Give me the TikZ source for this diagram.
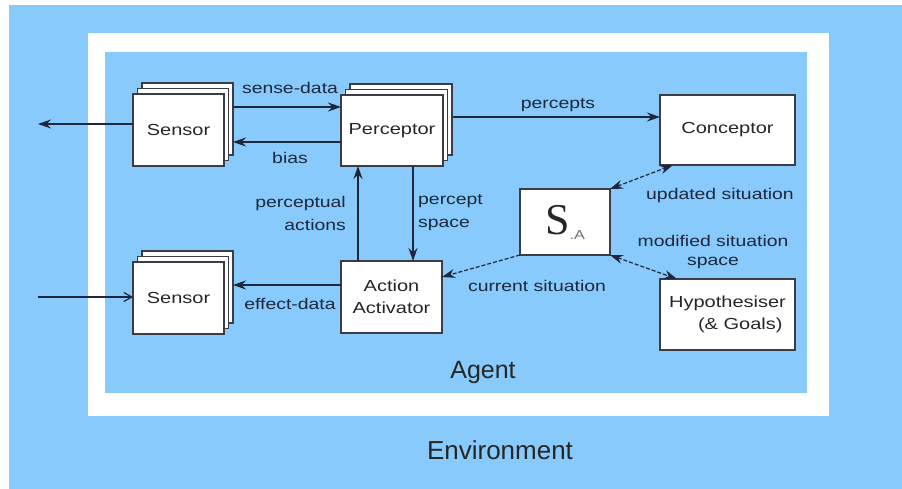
\documentclass[tikz,border=0pt]{standalone}
\usepackage{fontspec}
\setmainfont{Liberation Sans}
\newfontfamily\wide{Liberation Sans}[FakeStretch=1.25]
\newfontfamily\serifS{Liberation Serif}
\usetikzlibrary{arrows.meta,shadows,calc}
\definecolor{bgblue}{RGB}{136,202,252}
\definecolor{ink}{RGB}{30,40,60}
\definecolor{border}{RGB}{60,60,70}
\tikzset{
  box/.style={draw=border, line width=1.1pt, fill=white, inner sep=0pt, outer sep=0pt, font=\wide\fontsize{16}{18}\selectfont, text=black!85},
  stack/.style={box, double copy shadow={shadow xshift=4.5pt, shadow yshift=5.5pt, fill=white, draw=border, line width=1.1pt}},
  arr/.style={draw=ink, line width=1.2pt, -{Stealth[length=13pt,width=9pt]}},
  darr/.style={draw=ink, line width=1.2pt, dash pattern=on 4pt off 2pt, {Stealth[length=13pt,width=9pt]}-{Stealth[length=13pt,width=9pt]}},
  sarr/.style={draw=ink, line width=1.2pt, dash pattern=on 4pt off 2pt, -{Stealth[length=13pt,width=9pt]}},
  oarr/.style={draw=ink, line width=1.2pt, -{Straight Barb[length=8pt,width=9pt]}},
  lbl/.style={font=\wide\fontsize{15.5}{20}\selectfont, text=ink, inner sep=0pt},
  big/.style={font=\fontsize{25}{28}\selectfont, text=black!85, inner sep=0pt}
}
\begin{document}
\begin{tikzpicture}[x=1pt,y=-1pt]
\useasboundingbox (0,0) rectangle (902,489);
\fill[bgblue] (9,5) rectangle (902,489);
\fill[white] (88,33) rectangle (829,416);
\fill[bgblue] (105,52) rectangle (807,393);

% nodes
\node[stack, minimum width=91pt, minimum height=72pt] (sens1) at (178.5,130) {Sensor};
\node[stack, minimum width=102pt, minimum height=71pt] (perc) at (392,130.5) {Perceptor};
\node[box, minimum width=135pt, minimum height=70pt] (conc) at (727.5,130) {Conceptor};
\node[box, minimum width=90pt, minimum height=66pt] (sa) at (565,222) {{\serifS\fontsize{44}{44}\selectfont S}\raisebox{-5pt}{\fontsize{13}{13}\selectfont\color{black!55}.A}};
\node[box, minimum width=101pt, minimum height=72pt, align=center, font=\wide\fontsize{16}{22}\selectfont] (aa) at (391.5,297) {Action\\Activator};
\node[stack, minimum width=91pt, minimum height=72pt] (sens2) at (178.5,298) {Sensor};
\node[box, minimum width=135pt, minimum height=71pt, align=center, font=\wide\fontsize{16}{22}\selectfont] (hyp) at (727.5,314.5) {Hypothesiser\\\hspace*{1.6em}(\& Goals)};

\coordinate (outL) at (38,124);
\coordinate (inL) at (38,297);

% connectors
\draw[arr] ($(sens1.east|-0,107)+(9,0)$) -- (perc.west|-0,107);
\draw[arr] (perc.west|-0,142) -- ($(sens1.east|-0,142)+(9,0)$);
\draw[arr] (sens1.west|-0,124) -- (outL);
\draw[arr] ($(perc.east|-0,117)+(10,0)$) -- (conc.west|-0,117);
\draw[darr] (sa.north east) -- ($(conc.south west)+(13,0)$);
\draw[sarr] (sa.south west) -- (aa.east|-0,277);
\draw[darr] (sa.south east) -- ($(hyp.north west)+(17,0)$);
\draw[arr] (aa.north-|358,0) -- (perc.south-|358,0);
\draw[arr] (perc.south-|413,0) -- (aa.north-|413,0);
\draw[arr] (aa.west|-0,285) -- ($(sens2.east|-0,285)+(9,0)$);
\draw[oarr] (inL) -- (sens2.west|-0,297);

% labels
\node[lbl] (l1) at (290,88) {sense-data};
\node[lbl] (l2) at (290,158) {bias};
\node[lbl] (l3) at (558,105) {percepts};
\node[lbl] (l4) at (720,195) {updated situation};
\node[lbl, align=center, font=\wide\fontsize{15.5}{19}\selectfont] (l5) at (713,252) {modified situation\\space};
\node[lbl] (l6) at (537,286) {current situation};
\node[lbl, anchor=east, align=right, font=\wide\fontsize{15.5}{23}\selectfont] (l7) at (346,213) {perceptual\\actions};
\node[lbl, anchor=west, align=left, font=\wide\fontsize{15.5}{23}\selectfont] (l8) at (418,213) {percept\\space};
\node[lbl] (l9) at (290,304) {effect-data};
\node[big] (agent) at (483,372) {Agent};
\node[big, font=\fontsize{26}{28}\selectfont] (env) at (500,450) {Environment};
\end{tikzpicture}
\end{document}
